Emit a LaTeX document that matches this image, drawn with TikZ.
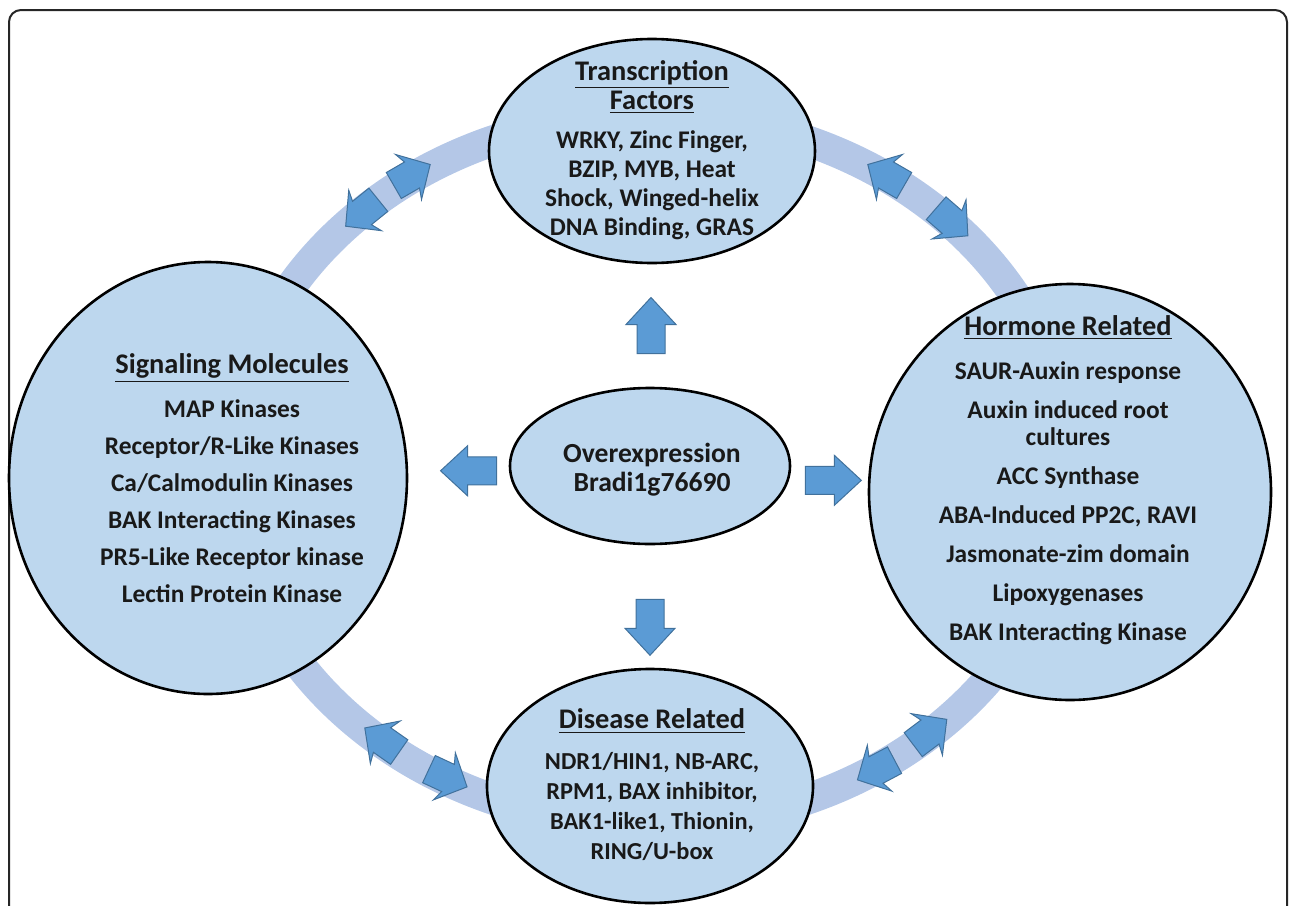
\documentclass[tikz,border=0pt]{standalone}
\usepackage{fontspec}
\setmainfont{Carlito}
\usepackage{tikz}
\usetikzlibrary{shapes.geometric,calc}

\definecolor{ringblue}{HTML}{B4C7E7}
\definecolor{bubblefill}{HTML}{BDD7EE}
\definecolor{arrfill}{HTML}{5B9BD5}
\definecolor{arrline}{HTML}{41719C}

\newcommand{\hd}[1]{{\fontsize{14.2}{16}\selectfont\underline{#1}}}

\begin{document}
\begin{tikzpicture}[x=0.5pt,y=-0.5pt,
    bubble/.style={ellipse,draw=black,line width=1.3pt,fill=bubblefill,inner sep=0pt},
    txt/.style={font=\bfseries\fontsize{12.7}{14.5}\selectfont,align=center,text=black!90},
    blockarr/.pic={\path[fill=arrfill,draw=arrline,line width=0.5pt]
        (-28,-14) -- (1,-14) -- (1,-25) -- (28,0) -- (1,25) -- (1,14) -- (-28,14) -- cycle;},
    ringarr/.pic={\path[fill=arrfill,draw=arrline,line width=0.5pt]
        (-21,-15) -- (0,-15) -- (-4,-26) -- (21,0) -- (-4,26) -- (0,15) -- (-21,15) -- cycle;}]
            \useasboundingbox (0,0) rectangle (1292,906);
            \clip (0,0) rectangle (1292,906);

            % frame
            \draw[rounded corners=6pt,line width=1pt,black!85] (9,10) rectangle (1287,940);

            % the ring behind everything
            \draw[ringblue,line width=15.5pt] (650,470) ellipse [x radius=419, y radius=355];

            % Bubbles
            \node[bubble,minimum width=163pt,minimum height=112pt] (tf) at (652,151) {};
            \node[bubble,minimum width=199pt,minimum height=216pt] (sig) at (208,478) {};
            \node[bubble,minimum width=201pt,minimum height=208pt] (hr) at (1070,492) {};
            \node[bubble,minimum width=163pt,minimum height=117pt] (dr) at (650,786) {};
            \node[bubble,minimum width=140pt,minimum height=78pt] (oe) at (650,466) {};

            % Texts
            \node[txt] (tftxt) at (652,150) {\hd{Transcription}\\\hd{Factors}\\[5pt]
                WRKY, Zinc Finger,\\BZIP, MYB, Heat\\Shock, Winged-helix\\DNA Binding, GRAS};
            \node[txt] (sigtxt) at (232,478) {\hd{Signaling Molecules}\\[7.5pt]
                MAP Kinases\\[4pt]Receptor/R-Like Kinases\\[4pt]Ca/Calmodulin Kinases\\[4pt]
                BAK Interacting Kinases\\[4pt]PR5-Like Receptor kinase\\[4pt]Lectin Protein Kinase};
            \node[txt,font=\bfseries\fontsize{12.7}{13.5}\selectfont] (hrtxt) at (1068,480) {\hd{Hormone Related}\\[8.5pt]
                SAUR-Auxin response\\[6pt]Auxin induced root\\cultures\\[6pt]ACC Synthase\\[6pt]
                ABA-Induced PP2C, RAVI\\[6pt]Jasmonate-zim domain\\[6pt]Lipoxygenases\\[6pt]
                BAK Interacting Kinase};
            \node[txt,font=\bfseries\fontsize{12.2}{15}\selectfont] (drtxt) at (652,785) {\hd{Disease Related}\\[5.5pt]
                NDR1/HIN1, NB-ARC,\\RPM1, BAX inhibitor,\\BAK1-like1, Thionin,\\RING/U-box};
            \node[txt,font=\bfseries\fontsize{13.8}{14.5}\selectfont] (oetxt) at (652,470) {Overexpression\\Bradi1g76690};

            % Arrows out of the middle
            \pic[rotate=90] at ($(oe.north)!0.5!(tf.south)$) {blockarr};
            \pic[rotate=180] at ($(oe.west)!0.4!(sig.east)$) {blockarr};
            \pic[rotate=0] at ($(oe.east)!0.55!(hr.west)$) {blockarr};
            \pic[rotate=270] at ($(oe.south)!0.67!(dr.north)$) {blockarr};

            % Arrows on the ring
            \pic[rotate=30] at (412,175) {ringarr};
            \pic[rotate=219] at (362,213) {ringarr};
            \pic[rotate=150] at (886,175) {ringarr};
            \pic[rotate=319] at (952,222) {ringarr};
            \pic[rotate=145] at (382,740) {ringarr};
            \pic[rotate=335] at (448,778) {ringarr};
            \pic[rotate=37] at (930,732) {ringarr};
            \pic[rotate=208] at (876,770) {ringarr};

\end{tikzpicture}
\end{document}
